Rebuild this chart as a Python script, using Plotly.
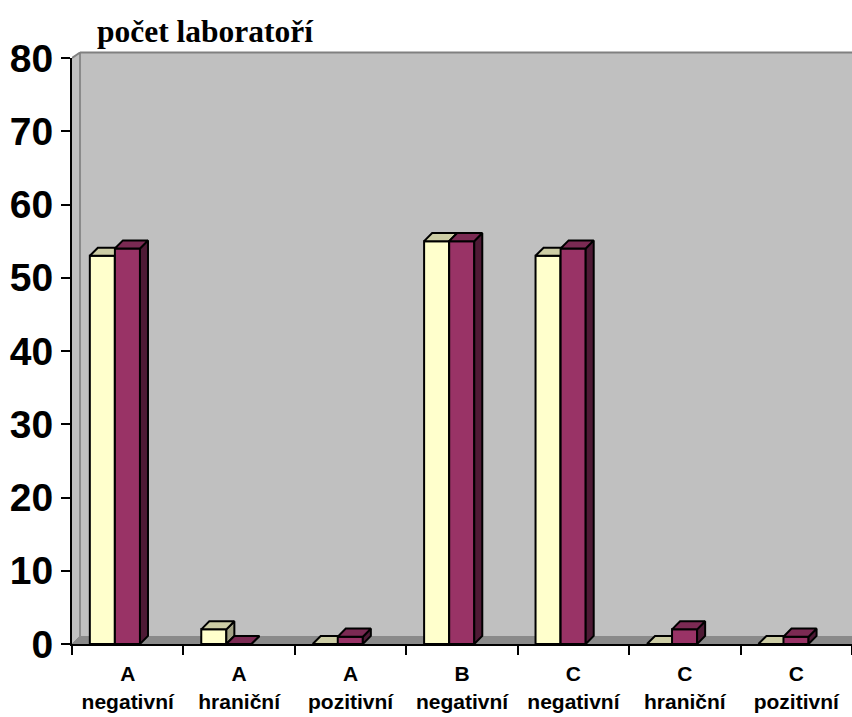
import plotly.graph_objects as go

# ---- data ----
categories = ["A<br>negativní", "A<br>hraniční", "A<br>pozitivní", "B<br>negativní",
              "C<br>negativní", "C<br>hraniční", "C<br>pozitivní"]
series1 = [53, 2, 0, 55, 53, 0, 0]     # light yellow series
series2 = [54, 0, 1, 55, 54, 2, 1]     # maroon series
y_ticks = [0, 10, 20, 30, 40, 50, 60, 70, 80]
y_title = "počet laboratoří"

# ---- styling / geometry (category units, value units) ----
DX = 0.072      # depth offset along x
DY = 1.1        # depth offset along y
W = 0.225       # bar front width
OFF1 = -0.34    # left edge of yellow bar relative to category centre
YMAX = 80
WALL_TOP = 80.75

FONT_SANS = "Liberation Sans, Arial, sans-serif"
FONT_SERIF = "Liberation Serif, Times New Roman, serif"

colors = {
    1: dict(front="#FFFFCC", side="#A3A385", top="#CDCDA5"),
    2: dict(front="#993366", side="#4E1A35", top="#7B2A53"),
}

fig = go.Figure()


def faces(values, offset):
    fx, fy, sx, sy, tx, ty = [], [], [], [], [], []
    for i, v in enumerate(values):
        x0 = i + offset
        x1 = x0 + W
        fx += [x0, x1, x1, x0, x0, None]
        fy += [0, 0, v, v, 0, None]
        sx += [x1, x1 + DX, x1 + DX, x1, x1, None]
        sy += [0, DY, v + DY, v, 0, None]
        tx += [x0, x1, x1 + DX, x0 + DX, x0, None]
        ty += [v, v, v + DY, v + DY, v, None]
    return (fx, fy), (sx, sy), (tx, ty)


for sid, vals, off in [(1, series1, OFF1), (2, series2, OFF1 + W)]:
    front, side, top = faces(vals, off)
    for (xs, ys), key in [(front, "front"), (side, "side"), (top, "top")]:
        fig.add_trace(go.Scatter(
            x=xs, y=ys, mode="lines", fill="toself",
            fillcolor=colors[sid][key],
            line=dict(color="black", width=2),
            hoverinfo="skip", showlegend=False,
        ))

# ---- 3D walls (decoration) ----
p = lambda v: v / YMAX  # value -> paper y
shapes = []
shapes.append(dict(type="rect", xref="x", yref="paper",
                   x0=-0.5 + DX, x1=6.5, y0=p(DY), y1=p(WALL_TOP),
                   fillcolor="#C0C0C0", line=dict(width=0), layer="below"))
shapes.append(dict(type="path", xref="x", yref="paper",
                   path=f"M {-0.5},{p(0)} L {-0.5+DX},{p(DY)} L {-0.5+DX},{p(WALL_TOP)} L {-0.5},{p(YMAX)} Z",
                   fillcolor="#C0C0C0", line=dict(width=0), layer="below"))
shapes.append(dict(type="path", xref="x", yref="paper",
                   path=f"M {-0.5},{p(0)} L 6.5,{p(0)} L 6.5,{p(DY)} L {-0.5+DX},{p(DY)} Z",
                   fillcolor="#8A8A8A", line=dict(width=0), layer="below"))
shapes.append(dict(type="line", xref="x", yref="paper",
                   x0=-0.5 + DX, x1=-0.5 + DX, y0=p(DY), y1=p(WALL_TOP),
                   line=dict(color="#8A8A8A", width=2), layer="below"))
shapes.append(dict(type="line", xref="x", yref="paper",
                   x0=-0.5 + DX, x1=6.5, y0=p(WALL_TOP), y1=p(WALL_TOP),
                   line=dict(color="#808080", width=2), layer="below"))
shapes.append(dict(type="line", xref="x", yref="paper",
                   x0=-0.5, x1=-0.5 + DX, y0=p(YMAX), y1=p(WALL_TOP),
                   line=dict(color="#808080", width=2), layer="below"))
shapes.append(dict(type="line", xref="x", yref="paper",
                   x0=-0.5, x1=-0.5 + DX, y0=p(0), y1=p(DY),
                   line=dict(color="#8A8A8A", width=1), layer="below"))

centers = list(range(len(categories)))
bounds = [i - 0.5 for i in range(len(categories) + 1)]

fig.update_layout(
    width=852, height=717,
    margin=dict(l=72, r=0, t=58, b=73),
    paper_bgcolor="white", plot_bgcolor="white",
    shapes=shapes,
    title=dict(text=y_title, x=97 / 852, xanchor="left", xref="container",
               y=1 - 31 / 717, yanchor="middle", yref="container",
               font=dict(family=FONT_SERIF, size=31.5, color="black", weight="bold")),
    xaxis=dict(range=[-0.5, 6.5], tickvals=centers, ticktext=categories,
               ticks="", showgrid=False, zeroline=False, automargin=False,
               showline=True, linecolor="black", linewidth=2,
               minor=dict(tickvals=bounds, ticks="outside", ticklen=9,
                          tickwidth=2, tickcolor="black", showgrid=False),
               tickfont=dict(family=FONT_SANS, size=21, color="black", weight="bold"),
               ticklabelstandoff=10),
    yaxis=dict(range=[0, YMAX], tickvals=y_ticks, ticks="outside", ticklen=9,
               tickwidth=2, tickcolor="black", showgrid=False, zeroline=False,
               automargin=False,
               showline=True, linecolor="black", linewidth=2,
               tickfont=dict(family=FONT_SANS, size=39, color="black", weight="bold"),
               ticklabelstandoff=0),
)

fig.write_html("out.html", config={"displayModeBar": False},
               post_script="document.body.style.margin='0px';")
